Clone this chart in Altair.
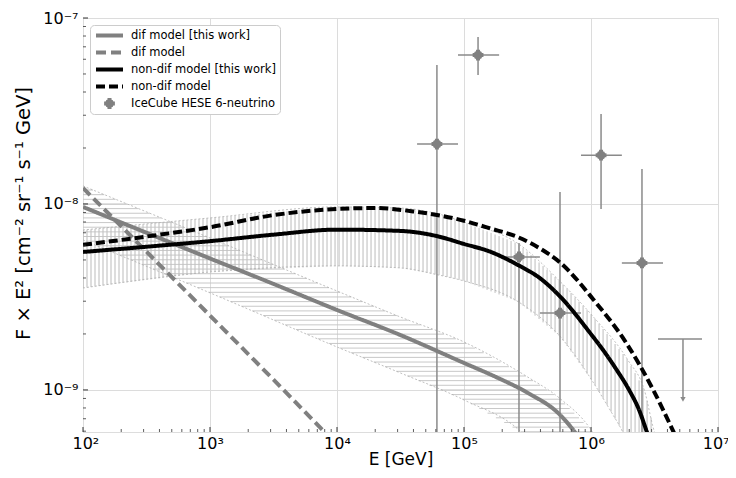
import altair as alt
import numpy as np
import pandas as pd

# ---------------- data ----------------
series_names = ["dif model [this work]", "dif model", "non-dif model [this work]",
                "non-dif model", "IceCube HESE 6-neutrino"]

# model curves: log10(E / GeV) and log10(F x E^2)
dif_this_logE = [2.0, 3.0, 3.5, 4.0, 4.5, 5.0, 5.25, 5.5, 5.75, 5.86, 5.95]
dif_this_logF = [-8.016, -8.293, -8.430, -8.57, -8.705, -8.855, -8.93, -9.015, -9.13, -9.215, -9.30]
dif_logE = [2.0, 3.0, 3.5, 3.95]
dif_logF = [-7.914, -8.60, -8.945, -9.26]
nondif_this_logE = [2.0, 2.5, 3.0, 3.5, 4.0, 4.5, 4.8, 5.0, 5.2, 5.43, 5.6, 5.76, 6.0, 6.1, 6.2,
                    6.3, 6.38, 6.44, 6.5]
nondif_this_logF = [-8.258, -8.23, -8.20, -8.165, -8.138, -8.145, -8.175, -8.215, -8.255, -8.33, -8.40,
                    -8.50, -8.70, -8.79, -8.89, -9.00, -9.11, -9.226, -9.34]
nondif_logE = [2.0, 2.5, 3.0, 3.5, 4.0, 4.3, 4.6, 5.0, 5.2, 5.43, 5.6, 5.76, 6.02, 6.28, 6.49, 6.65, 6.7]
nondif_logF = [-8.22, -8.175, -8.125, -8.06, -8.027, -8.022, -8.04, -8.09, -8.13, -8.18, -8.24,
               -8.317, -8.515, -8.75, -9.0, -9.226, -9.3]

# uncertainty bands
dif_up_logE = [2.0, 3.0, 4.0, 4.5, 5.0, 5.5, 5.75, 6.0, 6.05]
dif_up_logF = [-7.903, -8.183, -8.468, -8.608, -8.742, -8.93, -9.043, -9.215, -9.27]
dif_lo_logE = [2.0, 3.0, 4.0, 4.5, 5.0, 5.45, 5.5]
dif_lo_logF = [-8.194, -8.478, -8.769, -8.909, -9.054, -9.226, -9.26]
nondif_up_logE = [2.0, 3.0, 4.0, 4.5, 4.8, 5.0, 5.43, 5.76, 6.02, 6.29, 6.42, 6.5, 6.55]
nondif_up_logF = [-8.14, -8.075, -8.016, -8.022, -8.054, -8.097, -8.215, -8.419, -8.608, -8.839, -9.0, -9.226, -9.3]
nondif_lo_logE = [2.0, 3.0, 4.0, 4.5, 4.8, 5.0, 5.43, 5.76, 6.02, 6.15, 6.25, 6.3]
nondif_lo_logF = [-8.452, -8.366, -8.333, -8.344, -8.382, -8.414, -8.527, -8.715, -8.962, -9.108, -9.226, -9.3]

# IceCube HESE points
ice_E = [6.12e4, 1.29e5, 2.71e5, 5.70e5, 1.20e6, 2.52e6]
ice_E_lo = [4.27e4, 8.97e4, 1.89e5, 3.96e5, 8.34e5, 1.75e6]
ice_E_hi = [8.97e4, 1.89e5, 3.96e5, 8.34e5, 1.75e6, 3.69e6]
ice_F = [2.10e-8, 6.32e-8, 5.19e-9, 2.59e-9, 1.83e-8, 4.82e-9]
ice_F_lo = [1e-10, 4.94e-8, 1e-10, 1e-10, 9.4e-9, 1e-10]
ice_F_hi = [5.58e-8, 7.90e-8, 6.16e-9, 1.16e-8, 3.05e-8, 1.54e-8]
# upper limit
ul_E = [5.30e6]
ul_E_lo = [3.37e6]
ul_E_hi = [7.48e6]
ul_F = [1.88e-9]
ul_F_tip = [8.9e-10]

# axes
x_major = [1e2, 1e3, 1e4, 1e5, 1e6, 1e7]
x_major_exp = [2, 3, 4, 5, 6, 7]
x_major_labels = ["10²", "10³", "10⁴", "10⁵", "10⁶", "10⁷"]
x_minor = [k * 10.0 ** n for n in range(2, 7) for k in range(2, 10)]
y_major = [1e-9, 1e-8, 1e-7]
y_major_exp = [-9, -8, -7]
y_major_labels = ["10⁻⁹", "10⁻⁸", "10⁻⁷"]
y_min = 5.94e-10
y_minor = [k * 10.0 ** n for n in (-10, -9, -8) for k in range(2, 10) if k * 10.0 ** n >= y_min]

# ---------------- styles ----------------
W, H = 635, 414
FONT = "DejaVu Sans"
series_colors = ["#808080", "#808080", "#000000", "#000000", "#808080"]
series_dash = [[1, 0], [10, 5], [1, 0], [9, 4], [1, 0]]
series_width = [4, 4, 3, 3.5, 1.5]
ice_path = ("M-0.4,0L0.4,0M0,-0.4L0,0.4"
            "M-0.19,0L-0.134,-0.134L0,-0.19L0.134,-0.134L0.19,0L0.134,0.134L0,0.19L-0.134,0.134Z")
series_shapes = ["stroke", "stroke", "stroke", "stroke", ice_path]


def lbl_expr(exps, labels):
    s = ""
    for e, l in zip(exps, labels):
        s += f"round(log(datum.value)/LN10)=={e}?'{l}':"
    return s + "''"


xs = alt.Scale(type="log", domain=[1e2, 1e7], nice=False)
ys = alt.Scale(type="log", domain=[y_min, 1e-7], nice=False)
x_axis = alt.Axis(values=x_major, labelExpr=lbl_expr(x_major_exp, x_major_labels), ticks=False,
                  domain=False, grid=True, gridColor="#dcdcdc", gridWidth=1, labelFont=FONT,
                  labelFontSize=16, labelColor="black", labelPadding=3, labelFlush=True,
                  labelFlushOffset=11, labelOverlap=False, title="E [GeV]", titleFont=FONT,
                  titleFontSize=17, titleFontWeight="normal", titleColor="black", titlePadding=0)
y_axis = alt.Axis(values=y_major, labelExpr=lbl_expr(y_major_exp, y_major_labels), ticks=False,
                  domain=False, grid=True, gridColor="#dcdcdc", gridWidth=1, labelFont=FONT,
                  labelFontSize=16, labelColor="black", labelPadding=5, labelFlush=False,
                  labelOverlap=False, title="F × E² [cm⁻² sr⁻¹ s⁻¹ GeV]", titleFont=FONT,
                  titleFontSize=19.5, titleFontWeight="normal", titleColor="black", titlePadding=9,
                  titleY=195)


def X(f):
    return alt.X(f, type="quantitative", scale=xs, axis=x_axis)


def Y(f):
    return alt.Y(f, type="quantitative", scale=ys, axis=y_axis)


leg = alt.Legend(title=None, orient="none", legendX=7, legendY=7, fillColor="white",
                 strokeColor="#cccccc", cornerRadius=4, padding=4, labelFont=FONT,
                 labelFontSize=11.5, labelColor="black", symbolSize=729, clipHeight=13,
                 rowPadding=4, labelOffset=6)
stroke_enc = alt.Stroke("series:N", scale=alt.Scale(domain=series_names, range=series_colors), legend=leg)
fill_enc = alt.Fill("series:N", scale=alt.Scale(domain=series_names, range=series_colors), legend=leg)
dash_enc = alt.StrokeDash("series:N", scale=alt.Scale(domain=series_names, range=series_dash), legend=leg)
width_enc = alt.StrokeWidth("series:N", scale=alt.Scale(domain=series_names, range=series_width), legend=leg)
shape_enc = alt.Shape("series:N", scale=alt.Scale(domain=series_names, range=series_shapes), legend=leg)

# ---------------- derived tables ----------------
lines_rows = []
for name, le, lf in [(series_names[0], dif_this_logE, dif_this_logF),
                     (series_names[1], dif_logE, dif_logF),
                     (series_names[2], nondif_this_logE, nondif_this_logF),
                     (series_names[3], nondif_logE, nondif_logF)]:
    for a, b in zip(le, lf):
        lines_rows.append({"E": 10 ** a, "F": 10 ** b, "series": name})
lines_df = pd.DataFrame(lines_rows)

# vertical hatch (non-dif band)
ve = np.arange(2.0, 6.6, 0.0315)
v_lo = np.interp(ve, nondif_lo_logE, nondif_lo_logF)
v_hi = np.interp(ve, nondif_up_logE, nondif_up_logF)
m = v_hi > v_lo
vh_df = pd.DataFrame({"E": 10 ** ve[m], "F": 10 ** v_lo[m], "F2": 10 ** v_hi[m]})

# horizontal hatch (dif band)
hl = np.arange(-9.3, -7.9, 0.025)
x_u = np.interp(hl, dif_up_logF[::-1], dif_up_logE[::-1])
x_l = np.interp(hl, dif_lo_logF[::-1], dif_lo_logE[::-1])
m2 = (x_u > x_l) & (hl < dif_up_logF[0])
hh_df = pd.DataFrame({"E": 10 ** x_l[m2], "E2": 10 ** x_u[m2], "F": 10 ** hl[m2]})

edges_rows = []
for name, le, lf in [("a", dif_up_logE, dif_up_logF), ("b", dif_lo_logE, dif_lo_logF),
                     ("c", nondif_up_logE, nondif_up_logF), ("d", nondif_lo_logE, nondif_lo_logF)]:
    for a, b in zip(le, lf):
        edges_rows.append({"E": 10 ** a, "F": 10 ** b, "edge": name})
edges_df = pd.DataFrame(edges_rows)

ice_df = pd.DataFrame({"E": ice_E, "E_lo": ice_E_lo, "E_hi": ice_E_hi, "F": ice_F,
                       "F_lo": ice_F_lo, "F_hi": ice_F_hi, "series": series_names[4]})
ul_df = pd.DataFrame({"E": ul_E, "E_lo": ul_E_lo, "E_hi": ul_E_hi, "F": ul_F, "F_tip": ul_F_tip})

ERR = "#8a8a8a"

# ---------------- layers ----------------
vhatch = alt.Chart(vh_df).mark_rule(color="#a9a9a9", strokeWidth=0.8, clip=True).encode(
    x=X("E"), y=Y("F"), y2="F2")
hhatch = alt.Chart(hh_df).mark_rule(color="#c2c2c2", strokeWidth=0.9, clip=True).encode(
    x=X("E"), x2="E2", y=Y("F"))
edges = alt.Chart(edges_df).mark_line(color="#b0b0b0", strokeWidth=0.8, strokeDash=[2, 2], clip=True,
                                      interpolate="monotone").encode(
    x=X("E"), y=Y("F"), detail="edge:N")
xerr = alt.Chart(ice_df).mark_rule(color=ERR, strokeWidth=1.5, clip=True).encode(
    x=X("E_lo"), x2="E_hi", y=Y("F"))
yerr = alt.Chart(ice_df).mark_rule(color=ERR, strokeWidth=1.5, clip=True).encode(
    x=X("E"), y=Y("F_lo"), y2="F_hi")
pts = alt.Chart(ice_df).mark_point(filled=True, size=729, opacity=1, clip=True).encode(
    x=X("E"), y=Y("F"), stroke=stroke_enc, fill=fill_enc, shape=shape_enc,
    strokeWidth=width_enc, strokeDash=dash_enc)
ulx = alt.Chart(ul_df).mark_rule(color=ERR, strokeWidth=1.5).encode(x=X("E_lo"), x2="E_hi", y=Y("F"))
uly = alt.Chart(ul_df).mark_rule(color=ERR, strokeWidth=1.5).encode(x=X("E"), y=Y("F"), y2="F_tip")
ula = alt.Chart(ul_df).mark_point(shape="triangle-down", filled=True, color=ERR, size=28, opacity=1).encode(
    x=X("E"), y=Y("F_tip"))
lines = alt.Chart(lines_df).mark_line(clip=True, interpolate="monotone").encode(
    x=X("E"), y=Y("F"), stroke=stroke_enc, strokeDash=dash_enc, strokeWidth=width_enc)

xmaj = alt.Chart(pd.DataFrame({"E": x_major})).mark_rule(color="#333", strokeWidth=1).encode(
    x=X("E"), y=alt.value(H), y2=alt.value(H - 5))
xmin = alt.Chart(pd.DataFrame({"E": x_minor})).mark_rule(color="#333", strokeWidth=0.8).encode(
    x=X("E"), y=alt.value(H), y2=alt.value(H - 3))
ymaj = alt.Chart(pd.DataFrame({"F": y_major})).mark_rule(color="#333", strokeWidth=1).encode(
    y=Y("F"), x=alt.value(0), x2=alt.value(5))
ymin = alt.Chart(pd.DataFrame({"F": y_minor})).mark_rule(color="#333", strokeWidth=0.8).encode(
    y=Y("F"), x=alt.value(0), x2=alt.value(3))

chart = alt.layer(vhatch, hhatch, edges, xerr, yerr, pts, ulx, uly, ula, lines,
                  xmaj, xmin, ymaj, ymin).properties(
    width=W, height=H,
    autosize=alt.AutoSizeParams(type="none"),
    padding={"left": 75, "top": 10, "right": 10, "bottom": 38},
).configure_view(stroke="#444", strokeWidth=1).configure(background="white")

chart.save("out.html", embed_options={"renderer": "svg", "actions": False})
